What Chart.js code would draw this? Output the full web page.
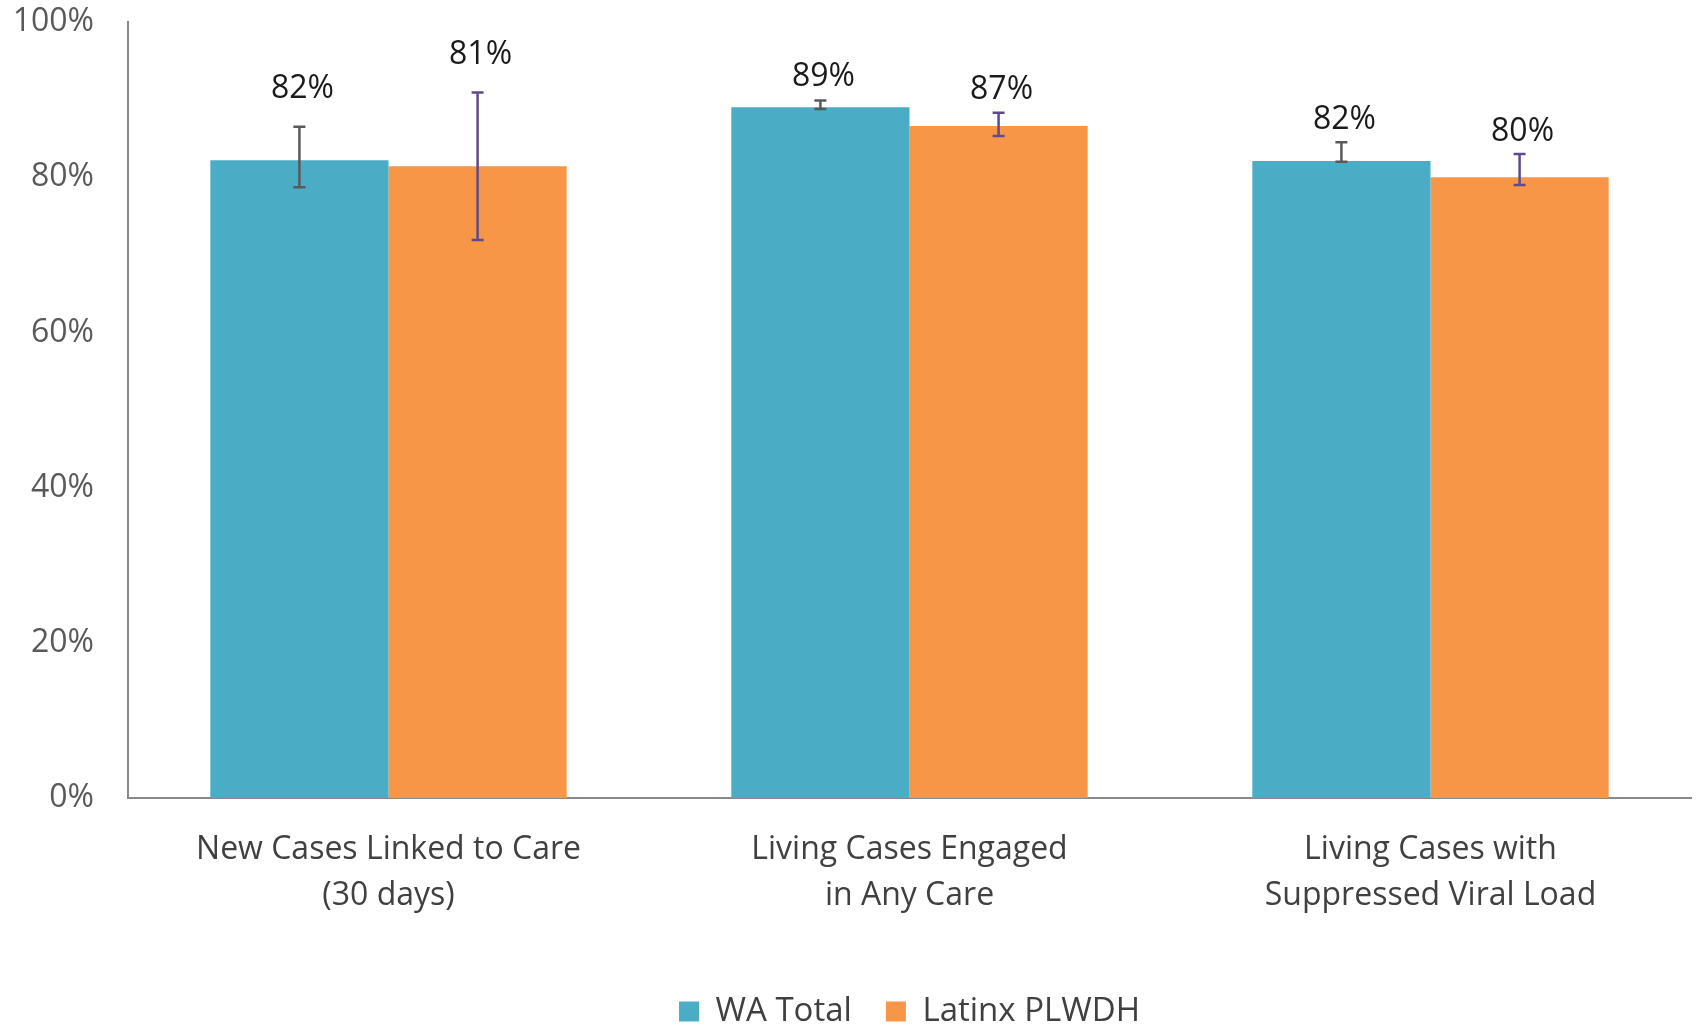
<!DOCTYPE html>
<html>
<head>
<meta charset="utf-8">
<title>Care continuum</title>
<script src="https://cdn.jsdelivr.net/npm/chart.js@4.4.1/dist/chart.umd.min.js"></script>
<style>
    body { margin: 0; background: #fff; }
    canvas { display: block; }
</style>
</head>
<body>
<canvas id="careChart" width="1698" height="1027"></canvas>
<script>
// chart data
const categories = [
    ["New Cases Linked to Care", "(30 days)"],
    ["Living Cases Engaged", "in Any Care"],
    ["Living Cases with", "Suppressed Viral Load"]
];
const seriesNames = ["WA Total", "Latinx PLWDH"];
const waTotal = [82.2, 89.0, 82.1];
const latinx = [81.4, 86.6, 80.0];
const waLow = [78.7, 88.8, 82.0];
const waHigh = [86.5, 89.9, 84.5];
const latinxLow = [71.9, 85.3, 79.0];
const latinxHigh = [90.9, 88.3, 83.0];
const yTicks = [0, 20, 40, 60, 80, 100];

const errLow = [waLow, latinxLow];
const errHigh = [waHigh, latinxHigh];
const errColors = ["#595959", "#5f4b8b"];
const labelGap = [38, 23, 22]; // px above top of error bar, per category

const FONT = "'Open Sans', 'Noto Sans', sans-serif";

// draws error bars + value labels on top of the bars
const errorBarPlugin = {
    id: "errorBars",
    afterDatasetsDraw(chart) {
        const ctx = chart.ctx;
        const yScale = chart.scales.y;
        ctx.save();
        chart.data.datasets.forEach((ds, di) => {
            const meta = chart.getDatasetMeta(di);
            meta.data.forEach((bar, i) => {
                const x = bar.x;
                const yLo = yScale.getPixelForValue(errLow[di][i]);
                const yHi = yScale.getPixelForValue(errHigh[di][i]);
                ctx.strokeStyle = errColors[di];
                ctx.lineWidth = 2.5;
                ctx.beginPath();
                ctx.moveTo(x, yLo);
                ctx.lineTo(x, yHi);
                ctx.moveTo(x - 6, yLo);
                ctx.lineTo(x + 6, yLo);
                ctx.moveTo(x - 6, yHi);
                ctx.lineTo(x + 6, yHi);
                ctx.stroke();

                ctx.fillStyle = "#1a1a1a";
                ctx.font = "32px " + FONT;
                ctx.textAlign = "center";
                ctx.textBaseline = "middle";
                ctx.fillText(Math.round(ds.data[i]) + "%", x + 3, yHi - labelGap[i]);
            });
        });
        ctx.restore();
    }
};

const ctx = document.getElementById("careChart").getContext("2d");

new Chart(ctx, {
    type: "bar",
    data: {
        labels: categories,
        datasets: [
            {
                label: seriesNames[0],
                data: waTotal,
                backgroundColor: "#4bacc6",
                categoryPercentage: 0.684,
                barPercentage: 1.0
            },
            {
                label: seriesNames[1],
                data: latinx,
                backgroundColor: "#f79646",
                categoryPercentage: 0.684,
                barPercentage: 1.0
            }
        ]
    },
    options: {
        responsive: false,
        animation: false,
        layout: {
            padding: { top: 22, right: 7, bottom: -11, left: 0 }
        },
        scales: {
            x: {
                grid: { display: false, drawTicks: false },
                border: { display: true, color: "#898989", width: 2 },
                ticks: {
                    color: "#404040",
                    padding: 29,
                    font: { family: FONT, size: 32, lineHeight: 1.43 }
                },
                afterFit(scale) { scale.height = 163; }
            },
            y: {
                min: 0,
                max: 100,
                afterBuildTicks(scale) {
                    scale.ticks = yTicks.map(v => ({ value: v }));
                },
                grid: { display: false, drawTicks: false },
                border: { display: true, color: "#898989", width: 2 },
                ticks: {
                    color: "#595959",
                    padding: 34,
                    font: { family: FONT, size: 32 },
                    callback: v => v + "%"
                },
                afterFit(scale) {
                    scale.width = 128;
                    // tick padding would otherwise push the plot down
                    scale.paddingTop = 0;
                    scale.paddingBottom = 0;
                }
            }
        },
        plugins: {
            legend: {
                position: "bottom",
                fullSize: false,
                labels: {
                    boxWidth: 20,
                    boxHeight: 20,
                    padding: 34,
                    color: "#404040",
                    font: { family: FONT, size: 33 }
                }
            },
            tooltip: { enabled: false }
        }
    },
    plugins: [errorBarPlugin]
});
</script>
</body>
</html>
